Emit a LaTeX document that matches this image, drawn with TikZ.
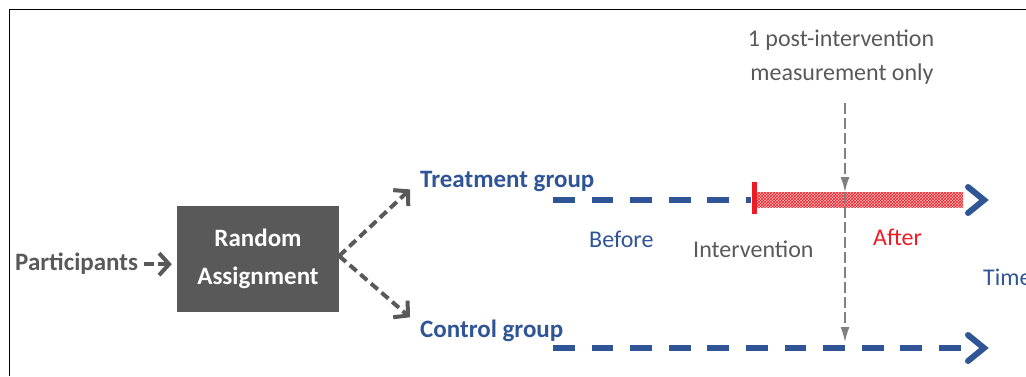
\documentclass[tikz,border=0pt]{standalone}
\usepackage{fontspec}
\setmainfont{Carlito}
\usetikzlibrary{arrows.meta,patterns}
\definecolor{dblue}{RGB}{47,85,151}
\definecolor{dgray}{RGB}{89,89,89}
\definecolor{mgray}{RGB}{128,128,128}
\definecolor{myred}{RGB}{237,28,36}
\tikzset{
  boldtxt/.style={inner sep=0pt, font=\fontsize{25}{30}\selectfont\bfseries},
  regtxt/.style={inner sep=0pt, font=\fontsize{24}{30}\selectfont},
  grayarrow/.style={draw=dgray, line width=4pt, dash pattern=on 9pt off 5pt,
    -{Straight Barb[length=10pt,width=22pt]}},
  blueline/.style={draw=dblue, line width=6pt, dash pattern=on 21.7pt off 16.9pt},
  chev/.style={draw=dblue, line width=6pt, line cap=round, line join=miter},
  vline/.style={draw=mgray, line width=1.3pt, dash pattern=on 11pt off 4pt,
    -{Latex[length=15pt,width=9pt]}}
}
\begin{document}
\begin{tikzpicture}[x=1pt,y=-1pt]
\useasboundingbox (0,0) rectangle (1026,376);
\draw[line width=1.5pt] (9.5,376) -- (9.5,9.5) -- (1026,9.5);

% left part
\node[boldtxt, text=dgray, anchor=base west] (part) at (15,270) {Participants};
\node[fill=dgray, minimum width=162pt, minimum height=106pt, inner sep=0pt,
      text=white, align=center, font=\fontsize{25}{38}\selectfont\bfseries]
      (box) at (258,259) {Random\\Assignment};
\draw[grayarrow, dash pattern=on 10pt off 4pt, shorten <=6pt, shorten >=5pt] ([yshift=-1pt]part.east) -- ([yshift=-1pt]part.east -| box.west);

\node[boldtxt, text=dblue, anchor=base west] (treat) at (420,187) {Treatment group};
\node[boldtxt, text=dblue, anchor=base west] (ctrl) at (420,337) {Control group};
\draw[grayarrow] ([yshift=3pt]box.east) -- ([xshift=-10pt,yshift=2pt]treat.south west);
\draw[grayarrow] ([yshift=3pt]box.east) -- ([xshift=-10pt,yshift=2pt]ctrl.north west);

% treatment timeline
\coordinate (t0) at (553,200);
\draw[blueline] (t0) -- (751,200);
\fill[myred!30] (757,192) rectangle (963,207);
\fill[pattern=crosshatch, pattern color=myred] (757,192) rectangle (963,207);
\draw[myred, line width=5pt] (754.5,182) -- (754.5,214);
\draw[chev] (968,187) -- (984,200) -- (968,213);

% control timeline
\coordinate (c0) at (553,348);
\draw[blueline] (c0) -- (962,348);
\draw[chev] (968,335) -- (984,348) -- (968,361);

% labels
\node[regtxt, text=dblue, anchor=base west] (before) at (589,247) {Before};
\node[regtxt, text=dgray, anchor=base west] (interv) at (693,257) {Intervention};
\node[regtxt, text=myred, anchor=base west] (after) at (873,245) {After};
\node[regtxt, text=dblue, anchor=base west] (time) at (983,285) {Time};

\node[regtxt, text=dgray, anchor=base] (m1) at (841,46) {1 post-intervention};
\node[regtxt, text=dgray, anchor=base] (m2) at (842,80) {measurement only};

% vertical measurement line
\coordinate (vtop) at (845,103);
\coordinate (vmid) at (845,192);
\coordinate (vbot) at (845,342);
\draw[vline] (vtop) -- (vmid);
\draw[vline] (vmid) -- (vbot);
\end{tikzpicture}
\end{document}
